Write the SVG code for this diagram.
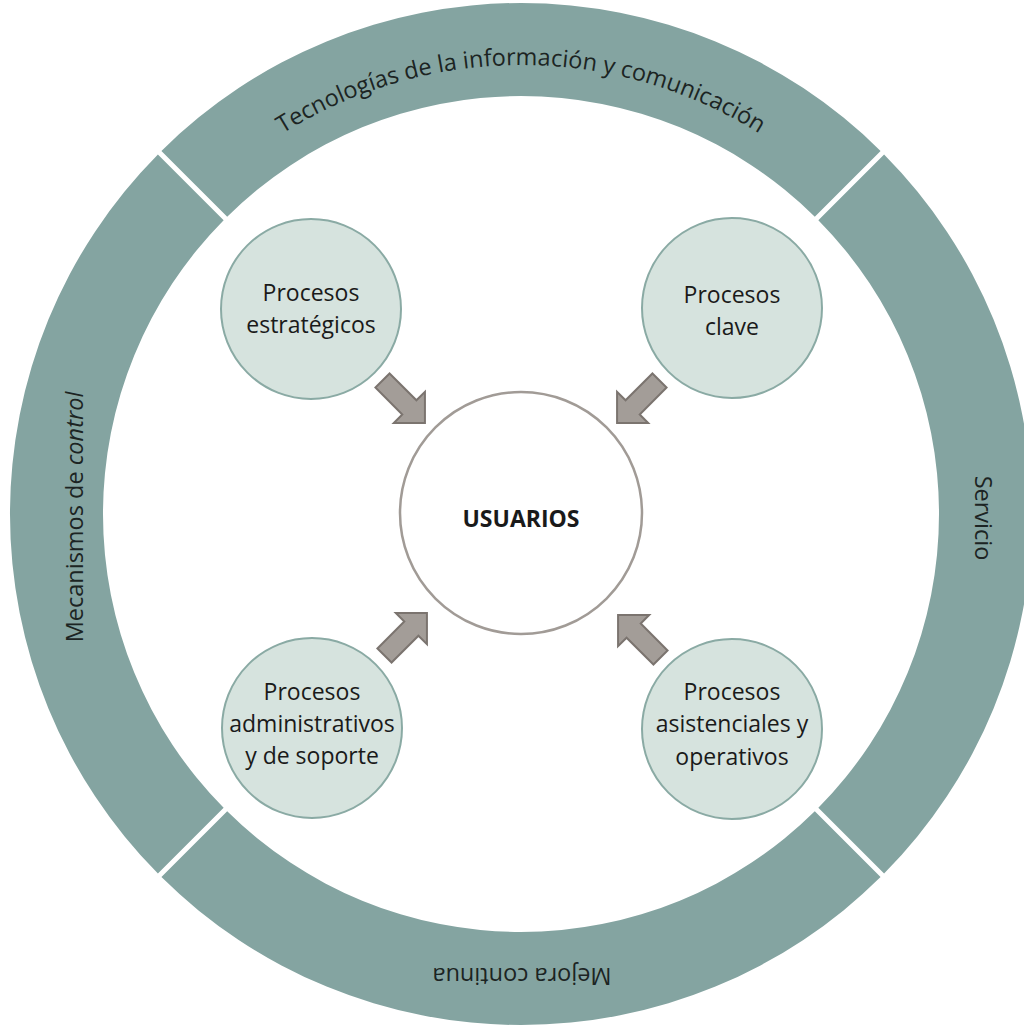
<svg xmlns="http://www.w3.org/2000/svg" width="1024" height="1026" viewBox="0 0 1024 1026">
<style>
.seg{fill:#84a4a1}
.ring{font-family:"Open Sans","Liberation Sans",sans-serif;font-size:23.5px;fill:#1c2423}
.proc{fill:#d6e3de;stroke:#8aaaa4;stroke-width:2}
.pt{font-family:"Open Sans","Liberation Sans",sans-serif;font-size:23px;fill:#1a1a1a;text-anchor:middle}
.arrow{fill:#a39d98;stroke:#7b746f;stroke-width:2;stroke-linejoin:miter}
</style>
<defs>
<path id="arc-top" d="M 72 514 A 449 449 0 0 1 970 514"/>
<polygon id="blk" points="0,-10 38,-10 38,-22 60,0 38,22 38,10 0,10"/>
</defs>
<rect width="1024" height="1026" fill="#ffffff"/>
<g id="seg-top">
<path class="seg" d="M 161.43 150.90 A 511 511 0 0 1 880.57 150.90 L 814.80 216.66 A 418 418 0 0 0 227.20 216.66 Z"/>
<text class="ring"><textPath href="#arc-top" startOffset="50%" text-anchor="middle">Tecnologías de la información y comunicación</textPath></text>
</g>
<g id="seg-right">
<path class="seg" d="M 884.10 154.43 A 511 511 0 0 1 884.10 873.57 L 818.34 807.80 A 418 418 0 0 0 818.34 220.20 Z"/>
<text class="ring" text-anchor="middle" transform="translate(975 518) rotate(90)">Servicio</text>
</g>
<g id="seg-bottom">
<path class="seg" d="M 880.57 877.10 A 511 511 0 0 1 161.43 877.10 L 227.20 811.34 A 418 418 0 0 0 814.80 811.34 Z"/>
<text class="ring" text-anchor="middle" transform="translate(522 968) rotate(180)">Mejora continua</text>
</g>
<g id="seg-left">
<path class="seg" d="M 157.90 873.57 A 511 511 0 0 1 157.90 154.43 L 223.66 220.20 A 418 418 0 0 0 223.66 807.80 Z"/>
<text class="ring" text-anchor="middle" transform="translate(83 517) rotate(-90)">Mecanismos de <tspan font-style="italic">control</tspan></text>
</g>
<g id="usuarios">
<circle cx="521" cy="513" r="121" fill="#ffffff" stroke="#a19b96" stroke-width="2.5"/>
<text class="pt" x="521" y="527" font-weight="bold">USUARIOS</text>
</g>
<g id="proc-estrategicos">
<circle class="proc" cx="311" cy="309" r="90"/>
<text class="pt" x="311" y="301">Procesos</text>
<text class="pt" x="311" y="333">estratégicos</text>
</g>
<g id="proc-clave">
<circle class="proc" cx="732" cy="308" r="90"/>
<text class="pt" x="732" y="303">Procesos</text>
<text class="pt" x="732" y="335">clave</text>
</g>
<g id="proc-administrativos">
<circle class="proc" cx="312" cy="728" r="90"/>
<text class="pt" x="312" y="700">Procesos</text>
<text class="pt" x="312" y="732">administrativos</text>
<text class="pt" x="312" y="764">y de soporte</text>
</g>
<g id="proc-asistenciales">
<circle class="proc" cx="732" cy="729" r="90"/>
<text class="pt" x="732" y="700">Procesos</text>
<text class="pt" x="732" y="732">asistenciales y</text>
<text class="pt" x="732" y="765">operativos</text>
</g>
<g id="connectors">
<use href="#blk" class="arrow" transform="translate(382.5 380.5) rotate(45)"/>
<use href="#blk" class="arrow" transform="translate(659.5 380.5) rotate(135)"/>
<use href="#blk" class="arrow" transform="translate(384.5 655.5) rotate(-45)"/>
<use href="#blk" class="arrow" transform="translate(660.5 657.5) rotate(-135)"/>
</g>
</svg>
